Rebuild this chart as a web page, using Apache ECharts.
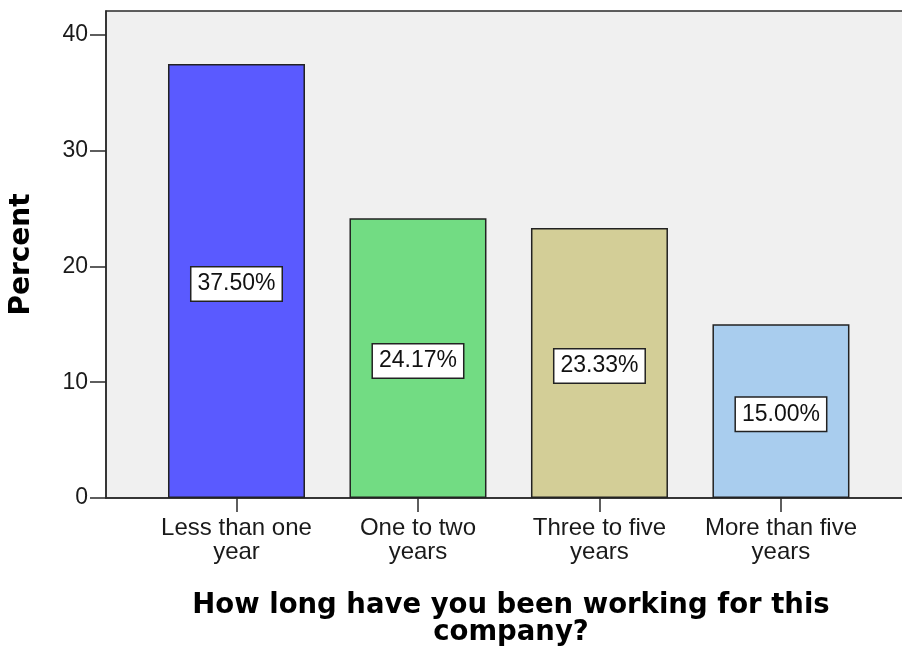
<!DOCTYPE html>
<html>
<head>
<meta charset="utf-8">
<script src="https://cdn.jsdelivr.net/npm/echarts@6/dist/echarts.min.js"></script>
<style>
html,body{margin:0;padding:0;background:#fff;}
#main{width:902px;height:651px;}
</style>
</head>
<body>
<div id="main"></div>
<script>
var categories = ['Less than one\nyear', 'One to two\nyears', 'Three to five\nyears', 'More than five\nyears'];
var percents = [37.5, 24.17, 23.33, 15.0];
var yTicks = [0, 10, 20, 30, 40];
var barColors = ['#5a5aff', '#72dc83', '#d3ce97', '#a9cdee'];

var tickFont = '"Liberation Sans", Arial, sans-serif';
var chart = echarts.init(document.getElementById('main'), null, {renderer: 'canvas'});
var option = {
  animation: false,
  backgroundColor: '#ffffff',
  grid: {
    left: 106, right: -6, top: 11, bottom: 153,
    containLabel: false,
    outerBoundsMode: 'none',
    show: true, backgroundColor: '#f0f0f0', borderColor: '#2a2a2a', borderWidth: 1.5
  },
  xAxis: {
    type: 'value',
    min: -0.719, max: 3.70,
    axisLine: {show: true, onZero: false, lineStyle: {color: '#2a2a2a', width: 1.5}},
    axisTick: {show: true, length: 14, customValues: [0, 1, 2, 3], lineStyle: {color: '#2a2a2a', width: 1.5}},
    axisLabel: {
      customValues: [0, 1, 2, 3],
      formatter: function (v) { return categories[Math.round(v)]; },
      fontFamily: tickFont, fontSize: 24, color: '#1a1a1a', lineHeight: 24, margin: 18
    },
    splitLine: {show: false}
  },
  yAxis: {
    type: 'value',
    min: 0, max: 42.07,
    name: 'Percent',
    nameLocation: 'middle',
    nameGap: 70,
    nameRotate: 90,
    nameTextStyle: {fontFamily: '"DejaVu Sans", sans-serif', fontWeight: 'bold', fontSize: 28, color: '#000'},
    axisLine: {show: true, onZero: false, lineStyle: {color: '#2a2a2a', width: 1.5}},
    axisTick: {show: true, length: 16, customValues: yTicks, lineStyle: {color: '#2a2a2a', width: 1.5}},
    axisLabel: {customValues: yTicks, fontFamily: tickFont, fontSize: 23, color: '#1a1a1a', margin: 18},
    splitLine: {show: false}
  },
  series: [{
    type: 'bar',
    barWidth: 137,
    data: percents.map(function (v, i) {
      return {value: [i, v], itemStyle: {color: barColors[i]}};
    }),
    itemStyle: {borderColor: '#222', borderWidth: 1.5},
    label: {
      show: true,
      position: 'inside',
      offset: [0, 3],
      formatter: function (p) { return p.value[1].toFixed(2) + '%'; },
      backgroundColor: '#ffffff',
      borderColor: '#222',
      borderWidth: 1.5,
      padding: [6, 6, 4, 6],
      fontFamily: tickFont,
      fontSize: 23,
      color: '#111'
    }
  }],
  graphic: [{
    type: 'text',
    style: {
      text: 'How long have you been working for this\ncompany?',
      x: 511, y: 592,
      textAlign: 'center',
      textVerticalAlign: 'top',
      fontFamily: '"DejaVu Sans", sans-serif',
      fontWeight: 'bold',
      fontSize: 27.5,
      lineHeight: 27,
      fill: '#000'
    }
  }]
};
chart.setOption(option);
</script>
</body>
</html>
